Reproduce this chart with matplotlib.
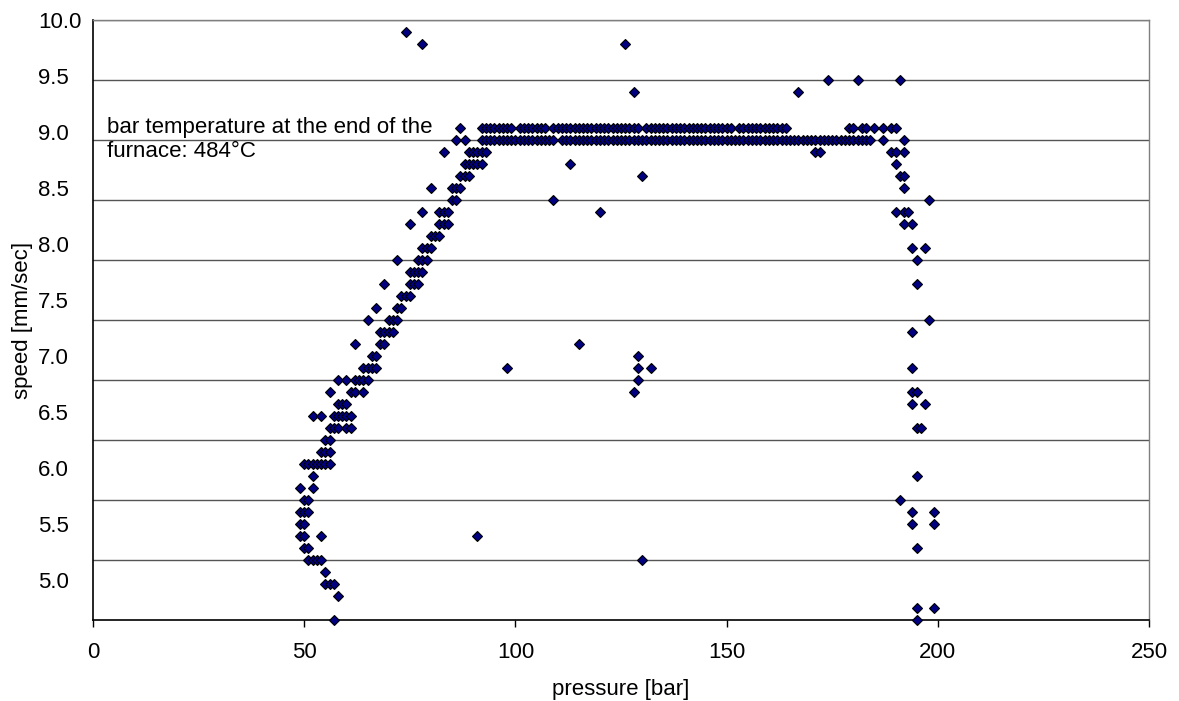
import matplotlib.pyplot as plt
import numpy as np

plt.rcParams['font.family'] = ['Liberation Sans', 'DejaVu Sans']

# left ramp: one speed row and the pressures read on that row
ramp_speed = [5.0, 5.2, 5.3, 5.4, 5.5, 5.6, 5.7, 5.8, 5.9, 6.0, 6.1, 6.2, 6.3, 6.4, 6.5,
              6.6, 6.7, 6.8, 6.9, 7.0, 7.1, 7.2, 7.3, 7.4, 7.5, 7.6, 7.7, 7.8, 7.9, 8.0,
              8.1, 8.2, 8.3, 8.4, 8.5, 8.6, 8.7, 8.8, 8.9]
ramp_pressure = [
    [57], [58], [55, 56, 57], [55], [51, 52, 53, 54], [50, 51], [49, 50, 54], [49, 50],
    [49, 50, 51], [50, 51], [49, 52], [52], [50, 51, 52, 53, 54, 55, 56], [54, 55, 56], [55, 56],
    [56, 57, 58, 60, 61], [52, 54, 57, 58, 59, 60, 61], [58, 59, 60], [56, 61, 62, 64],
    [58, 60, 62, 63, 64, 65], [64, 65, 66, 67], [66, 67], [62, 68, 69], [68, 69, 70, 71],
    [65, 70, 71, 72], [67, 72, 73], [73, 74, 75], [69, 75, 76, 77], [75, 76, 77, 78],
    [72, 77, 78, 79], [78, 79, 80], [80, 81, 82], [75, 82, 83, 84], [78, 82, 83, 84],
    [85, 86], [80, 85, 86, 87], [87, 88, 89], [88, 89, 90, 91, 92], [83, 89, 90, 91, 92, 93],
]

# plateau rows
plateau_91 = [87, 92, 93, 94, 95, 96, 97, 98, 99, 101, 102, 103, 104, 105, 106, 107, 109,
              110, 111, 112, 113, 114, 115, 116, 117, 118, 119, 120, 121, 122, 123, 124, 125,
              126, 127, 128, 129, 131, 132, 133, 134, 135, 136, 137, 138, 139, 140, 141, 142,
              143, 144, 145, 146, 147, 148, 149, 150, 151, 153, 154, 155, 156, 157, 158, 159,
              160, 161, 162, 163, 164, 179, 180, 182, 183, 185, 187, 189, 190]
plateau_90 = [86, 88, 92, 93, 94, 95, 96, 97, 98, 99, 100, 101, 102, 103, 104, 105, 106, 107,
              108, 109, 111, 112, 113, 114, 115, 116, 117, 118, 119, 120, 121, 122, 123, 124,
              125, 126, 127, 128, 129, 130, 131, 132, 133, 134, 135, 136, 137, 138, 139, 140,
              141, 142, 143, 144, 145, 146, 147, 148, 149, 150, 151, 152, 153, 154, 155, 156,
              157, 158, 159, 160, 161, 162, 163, 164, 165, 166, 167, 168, 169, 170, 171, 172,
              173, 174, 175, 176, 177, 178, 179, 180, 181, 182, 183, 184, 187, 192]

# right drop
drop_speed = [8.9, 8.8, 8.7, 8.6, 8.5, 8.4, 8.3, 8.1, 8.0, 7.8, 7.5, 7.4, 7.1, 6.9, 6.8,
              6.6, 6.2, 6.0, 5.9, 5.8, 5.6, 5.1, 5.0]
drop_pressure = [
    [171, 172, 189, 190, 192], [190], [191, 192], [192], [198], [190, 192, 193], [192, 194],
    [194, 197], [195], [195], [198], [194], [194], [194, 195], [194, 197], [195, 196], [195],
    [191], [194, 199], [194, 199], [195], [195, 199], [195],
]

# scattered single points
outlier_pressure = [74, 78, 126, 128, 167, 174, 181, 191, 109, 113, 120, 130, 98, 115,
                    129, 129, 132, 129, 128, 91, 130]
outlier_speed = [9.9, 9.8, 9.8, 9.4, 9.4, 9.5, 9.5, 9.5, 8.5, 8.8, 8.4, 8.7, 7.1, 7.3,
                 7.2, 7.1, 7.1, 7.0, 6.9, 5.7, 5.5]

x_ticks = [0, 50, 100, 150, 200, 250]
y_labels = ['10.0', '9.5', '9.0', '8.5', '8.0', '7.5', '7.0', '6.5', '6.0', '5.5', '5.0']

pressure, speed = [], []
for s, row in zip(ramp_speed, ramp_pressure):
    pressure += row
    speed += [s] * len(row)
pressure += plateau_91 + plateau_90
speed += [9.1] * len(plateau_91) + [9.0] * len(plateau_90)
for s, row in zip(drop_speed, drop_pressure):
    pressure += row
    speed += [s] * len(row)
pressure += outlier_pressure
speed += outlier_speed

W, H = 1179, 701
fs = 16
fig = plt.figure(figsize=(W / 100, H / 100), dpi=100)
ax = fig.add_axes([93 / W, 1 - 620 / H, 1056 / W, 600 / H])

ax.set_xlim(0, 250)
ax.set_ylim(5.0, 10.0)

# horizontal grid lines
for g in np.arange(5.5, 10.01, 0.5):
    ax.axhline(g, color='#555555', lw=1.0, zorder=1)

ax.plot(pressure, speed, ls='none', marker='D', ms=5.0, mfc='#000080', mec='black',
        mew=0.8, zorder=3, clip_on=False)

for side in ['top', 'right']:
    ax.spines[side].set_color('#7f7f7f')
    ax.spines[side].set_linewidth(1.0)
for side in ['left', 'bottom']:
    ax.spines[side].set_color('black')
    ax.spines[side].set_linewidth(1.2)

ax.set_xticks(x_ticks)
ax.set_xticklabels([str(t) for t in x_ticks], fontsize=fs)
ax.tick_params(axis='x', direction='out', length=5, width=1, pad=11)
ax.set_yticks([])

# the speed labels sit a bit off the grid lines in the original
label_px = 22 + 56.1 * np.arange(len(y_labels))
for lab, py in zip(y_labels, label_px):
    fig.text(38 / W, 1 - py / H, lab, ha='left', va='center', fontsize=fs)

fig.text(23 / W, 1 - 320 / H, 'speed [mm/sec]', rotation=90, ha='center', va='center',
         fontsize=fs)
fig.text(621 / W, 1 - 690 / H, 'pressure [bar]', ha='center', va='center', fontsize=fs)

fig.text(107 / W, 1 - 133 / H, 'bar temperature at the end of the', ha='left',
         va='baseline', fontsize=fs)
fig.text(107 / W, 1 - 157 / H, 'furnace: 484°C', ha='left', va='baseline', fontsize=fs)

fig.savefig('out.png', dpi=100)
